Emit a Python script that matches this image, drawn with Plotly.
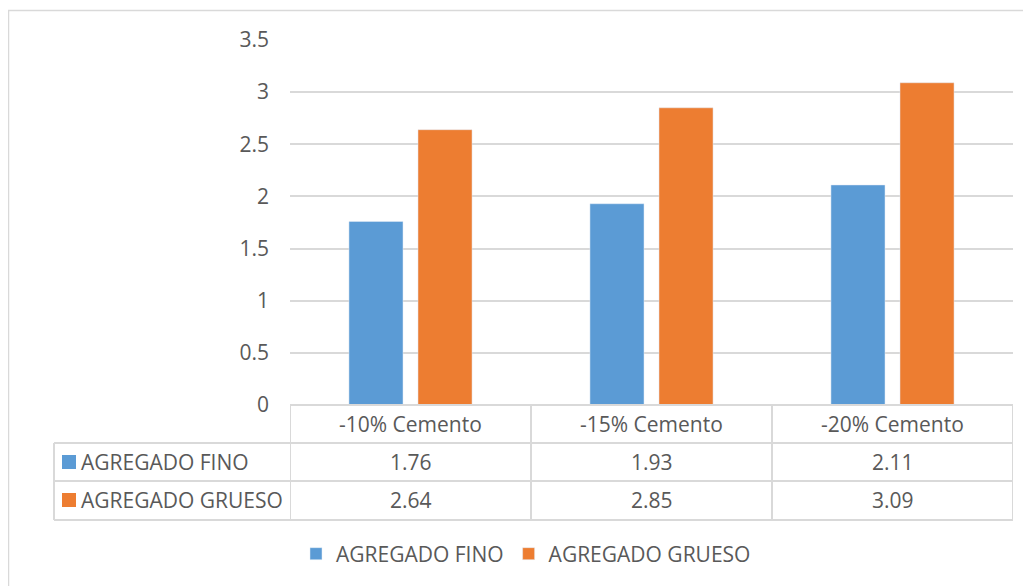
import plotly.graph_objects as go

categories = ["-10% Cemento", "-15% Cemento", "-20% Cemento"]
series_names = ["AGREGADO FINO", "AGREGADO GRUESO"]
fino = [1.76, 1.93, 2.11]
grueso = [2.64, 2.85, 3.09]
y_ticks = [0, 0.5, 1, 1.5, 2, 2.5, 3, 3.5]
y_tick_labels = ["0", "0.5", "1", "1.5", "2", "2.5", "3", "3.5"]

BLUE = "#5B9BD5"
ORANGE = "#ED7D31"
TXT = "#595959"
GRID = "#D9D9D9"
FONT = "Open Sans"
FS = 21

OFF = 8  # page body margin
W, H = 1031 - OFF, 586 - OFF
L, R, T, B = 290 - OFF, 18, 40 - OFF, 181
PW = W - L - R
PH = H - T - B


def px(xp):
    return (xp - OFF - L) / PW


def py(yp):
    return (T + PH - (yp - OFF)) / PH


fig = go.Figure()
fig.add_trace(go.Bar(x=categories, y=fino, name=series_names[0], marker_color=BLUE))
fig.add_trace(go.Bar(x=categories, y=grueso, name=series_names[1], marker_color=ORANGE))

shapes = []
line = dict(color=GRID, width=2)
# outer chart frame
shapes.append(dict(type="rect", xref="paper", yref="paper", x0=px(8.5), x1=px(1045),
                   y0=py(10.5), y1=py(600), line=dict(color=GRID, width=1.5),
                   fillcolor="rgba(0,0,0,0)", layer="below"))
# table horizontal lines
y_header = py(443)
y_row1 = py(481)
y_row2 = py(520)
x_left = px(54)
shapes.append(dict(type="line", xref="paper", yref="paper", x0=0, x1=1, y0=0, y1=0, line=line))
for yy in (y_header, y_row1, y_row2):
    shapes.append(dict(type="line", xref="paper", yref="paper", x0=x_left, x1=1, y0=yy, y1=yy, line=line))
# vertical lines at category boundaries
for i in range(len(categories) + 1):
    shapes.append(dict(type="line", xref="x", yref="paper", x0=i - 0.5, x1=i - 0.5,
                       y0=0, y1=y_row2, line=line))
shapes.append(dict(type="line", xref="paper", yref="paper", x0=x_left, x1=x_left,
                   y0=y_header, y1=y_row2, line=line))
# legend keys in the table
for yc, col in ((462, BLUE), (500, ORANGE)):
    shapes.append(dict(type="rect", xref="paper", yref="paper", x0=px(62), x1=px(76),
                       y0=py(yc - 7), y1=py(yc + 7), line=dict(width=0), fillcolor=col))

tfont = dict(family=FONT, size=FS, color=TXT)
annotations = []
for c in categories:
    annotations.append(dict(x=c, xref="x", y=py(424), yref="paper", text=c, showarrow=False,
                            xanchor="center", yanchor="middle", font=tfont))
for row_y, vals, name in ((462, fino, series_names[0]), (500, grueso, series_names[1])):
    for c, v in zip(categories, vals):
        annotations.append(dict(x=c, xref="x", y=py(row_y), yref="paper", text=f"{v:.2f}",
                                showarrow=False, xanchor="center", yanchor="middle", font=tfont))
    annotations.append(dict(x=px(79), xref="paper", y=py(row_y), yref="paper", text=name,
                            xanchor="left", yanchor="middle", showarrow=False, font=tfont))

fig.update_layout(
    width=W, height=H,
    margin=dict(l=L, r=R, t=T, b=B),
    paper_bgcolor="white", plot_bgcolor="white",
    barmode="group", bargap=0.427, bargroupgap=0.217,
    font=tfont,
    showlegend=True,
    legend=dict(orientation="h", x=px(296), xanchor="left", y=py(554), yanchor="middle",
                font=tfont, itemclick=False, itemwidth=30),
    shapes=shapes, annotations=annotations,
    xaxis=dict(range=[-0.5, 2.5], showticklabels=False, showgrid=False, zeroline=False,
               showline=False, fixedrange=True),
    yaxis=dict(range=[0, 3.5], tickvals=y_ticks, ticktext=y_tick_labels, showgrid=True,
               gridcolor=GRID, gridwidth=1.5, zeroline=False, showline=False,
               ticklabelstandoff=20, tickfont=tfont),
)

fig.write_html("out.html")
